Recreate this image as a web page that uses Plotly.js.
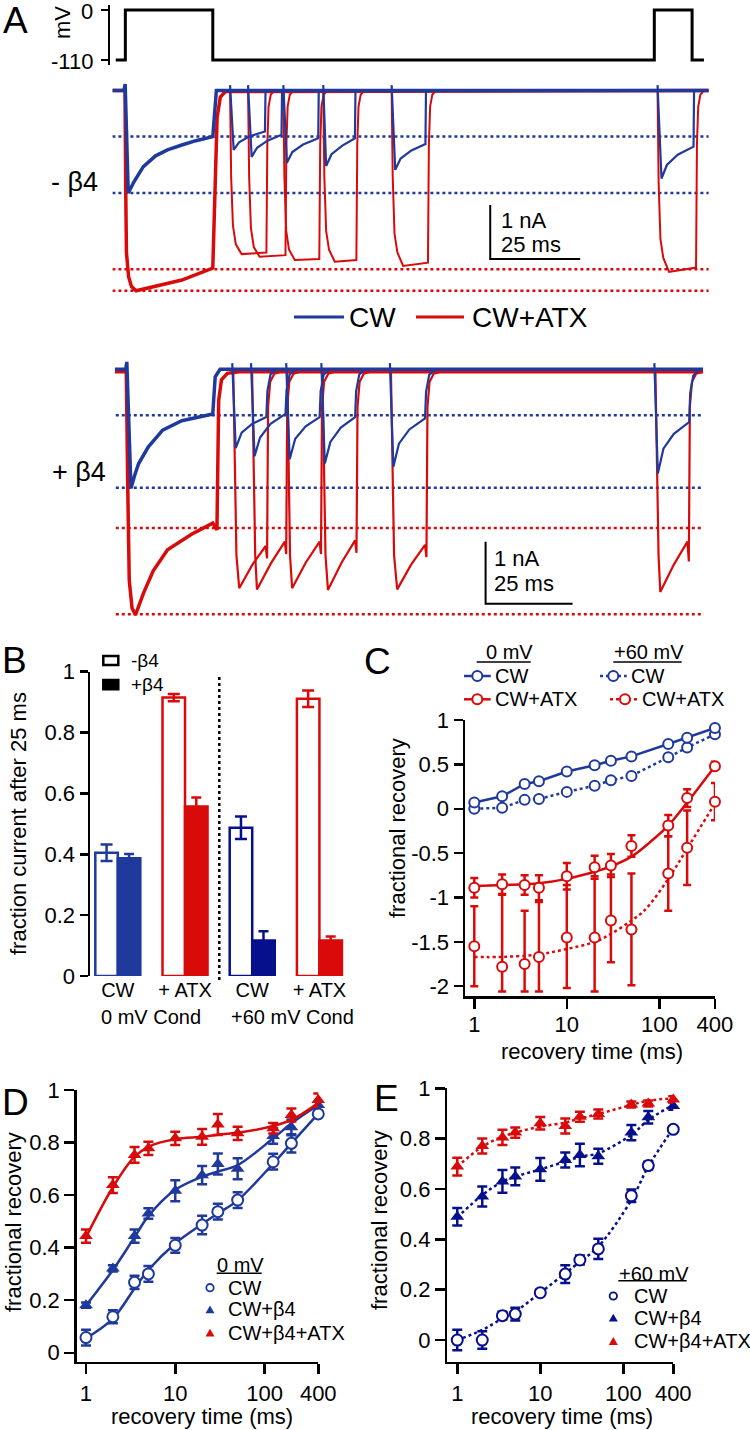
<!DOCTYPE html>
<html><head><meta charset="utf-8">
<script src="https://cdn.plot.ly/plotly-3.0.1.min.js"></script>
<style>html,body{margin:0;padding:0;background:#fff}#chart{width:750px;height:1430px}</style>
</head><body><div id="chart"></div>
<script>
// ---------------- DATA ----------------
// Panel A: voltage protocol (ms, mV)
const protoT = [-2.67, 0, 0, 24.3, 24.3, 147.0, 147.0, 157.5, 157.5, 160.8];
const protoV = [-110, -110, 0, 0, -110, -110, 0, 0, -110, -110];
const protoTickVals = [0, -110];
const protoTickText = ['0', '-110'];

// Panel A, -beta4 traces (ms, nA)
const condBlueMinusT = [-3.6, -0.4, -0.05, 0.8, 2.4, 5.0, 8.4, 11.7, 15.7, 19.6, 24.3, 24.8, 25.3, 162.1];
const condBlueMinusI = [0, 0, 0.12, -1.90, -1.69, -1.41, -1.21, -1.10, -1.01, -0.93, -0.855, -0.3, 0, 0];
const testBlueMinusT = [29.1,30.1,31.6,34.5,38.8,38.95, null, 34.1,35.1,36.6,39.5,43.4,43.55, null, 43.9,44.9,46.4,49.4,53.6,53.75, null, 55.0,55.8,57.3,60.3,63.8,63.95, null, 74.0,75.0,76.5,79.5,83.4,83.55, null, 147.9,149.0,150.5,153.5,157.9,158.05];
const testBlueMinusI = [0.1,-1.10,-0.96,-0.85,-0.76,0, null, 0.1,-1.23,-1.06,-0.93,-0.82,0, null, 0.1,-1.34,-1.14,-1.00,-0.885,0, null, 0.1,-1.40,-1.18,-1.02,-0.885,0, null, 0.1,-1.47,-1.26,-1.11,-0.99,0, null, 0.1,-1.63,-1.38,-1.19,-1.04,0];
const condRedMinusT = [-3.6, -0.1, 0.1, 0.3, 0.9, 1.7, 3.0, 7.7, 15.7, 24.3, 24.8, 25.5, 26.4, 27.8, 162.1];
const condRedMinusI = [0, 0, -1.8, -3.0, -3.45, -3.63, -3.71, -3.63, -3.51, -3.29, -2.2, -0.5, -0.12, -0.02, 0];
const testRedMinusT = [29.1,29.4,29.9,30.7,32.3,39.2,39.45,39.8,40.4,41.4, null,
  34.1,34.4,34.9,35.7,37.3,44.5,44.75,45.1,45.7,46.7, null,
  43.9,44.2,44.7,45.5,47.1,53.9,54.15,54.5,55.1,56.1, null,
  55.0,55.3,55.8,56.6,58.2,64.2,64.45,64.8,65.4,66.4, null,
  74.0,74.3,74.8,75.6,77.2,84.1,84.35,84.7,85.3,86.3, null,
  147.9,148.2,148.7,149.5,151.1,158.6,158.85,159.2,159.8,160.8];
const testRedMinusI = [0,-1.6,-2.5,-2.85,-3.03,-3.00,-1.0,-0.3,-0.08,0, null,
  0,-1.6,-2.55,-2.9,-3.08,-3.05,-1.0,-0.3,-0.08,0, null,
  0,-1.6,-2.6,-2.95,-3.14,-3.12,-1.0,-0.3,-0.08,0, null,
  0,-1.6,-2.6,-2.95,-3.17,-3.14,-1.0,-0.3,-0.08,0, null,
  0,-1.6,-2.65,-3.0,-3.25,-3.19,-1.0,-0.3,-0.08,0, null,
  0,-1.7,-2.75,-3.1,-3.36,-3.28,-1.0,-0.3,-0.08,0];
const refBlueMinus = [-0.85, -1.90];
const refRedMinus = [-3.31, -3.71];
const spanMinus = [-3.6, 162.1];
const scaleMinusT = [101.4, 101.4, 126.4];
const scaleMinusI = [-2.12, -3.12, -3.12];

// Panel A, +beta4 traces (ms, nA)
const condBluePlusT = [-3.45, -0.3, 0, 1.2, 2.2, 3.4, 6.2, 10.3, 15.8, 24.7, 25.4, 26.8, 165.6];
const condBluePlusI = [0, 0, 0.12, -1.92, -1.72, -1.52, -1.25, -0.98, -0.83, -0.72, -0.12, 0, 0];
const testBluePlusT = [30.3,31.3,33.0,36.0,40.1,40.4,41.3,43.1, null,
  35.7,36.7,38.3,41.3,45.6,45.9,46.8,48.6, null,
  45.8,46.8,48.4,51.4,55.4,55.7,56.6,58.4, null,
  55.9,56.9,58.5,61.5,65.6,65.9,66.8,68.6, null,
  75.6,76.6,78.2,81.2,85.7,86.0,86.9,88.7, null,
  151.6,152.6,154.2,157.2,161.6,161.9,162.8,164.6];
const testBluePlusI = [0.1,-1.27,-1.02,-0.88,-0.77,-0.35,-0.08,0, null,
  0.1,-1.40,-1.10,-0.88,-0.72,-0.33,-0.08,0, null,
  0.1,-1.45,-1.12,-0.92,-0.77,-0.35,-0.08,0, null,
  0.1,-1.52,-1.17,-0.94,-0.77,-0.35,-0.08,0, null,
  0.1,-1.57,-1.20,-0.97,-0.79,-0.36,-0.09,0, null,
  0.1,-1.68,-1.28,-1.04,-0.85,-0.38,-0.1,0];
const condRedPlusT = [-3.45, -0.15, 0.3, 0.7, 1.5, 2.5, 4.8, 7.6, 11.7, 18.6, 24.7, 25.9, 26.4, 27.2, 28.9, 32.3, 165.6];
const condRedPlusI = [-0.04, -0.04, -2.0, -3.4, -3.85, -3.96, -3.61, -3.25, -2.91, -2.66, -2.48, -2.59, -0.5, -0.17, -0.065, -0.04, -0.04];
const testRedPlusT = [30.6,31.0,31.5,32.3,36.1,39.9,40.3,40.6,41.2,42.4,44.4, null,
  36.0,36.4,36.9,37.4,41.4,45.4,45.8,46.1,46.7,47.9,49.9, null,
  46.1,46.5,46.9,47.5,51.4,55.4,55.8,56.1,56.7,57.9,59.9, null,
  56.2,56.6,57.1,57.8,61.7,65.6,66.0,66.3,66.9,68.1,70.1, null,
  75.9,76.3,76.8,77.7,81.7,85.7,86.1,86.4,87.0,88.2,90.2, null,
  151.9,152.3,152.8,153.3,157.2,161.1,161.5,161.8,162.4,163.6,165.6];
const testRedPlusI = [-0.04,-1.6,-3.0,-3.53,-3.15,-2.85,-3.05,-0.6,-0.2,-0.07,-0.04, null,
  -0.04,-1.6,-3.0,-3.55,-3.13,-2.78,-2.98,-0.6,-0.2,-0.07,-0.04, null,
  -0.04,-1.6,-3.0,-3.53,-3.12,-2.78,-2.98,-0.6,-0.2,-0.07,-0.04, null,
  -0.04,-1.6,-3.0,-3.56,-3.12,-2.76,-2.96,-0.6,-0.2,-0.07,-0.04, null,
  -0.04,-1.6,-3.0,-3.55,-3.15,-2.83,-3.03,-0.6,-0.2,-0.07,-0.04, null,
  -0.04,-1.6,-3.0,-3.59,-3.15,-2.78,-3.1,-0.6,-0.2,-0.07,-0.04];
const refBluePlus = [-0.74, -1.91];
const refRedPlus = [-2.56, -3.95];
const spanPlus = [-3.16, 165.0];
const scalePlusT = [103.1, 103.1, 128.1];
const scalePlusI = [-2.78, -3.78, -3.78];

// Panel B: fraction current after 25 ms
const categoriesB = ['CW', '+ ATX', 'CW', '+ ATX'];
const conditionsB = ['0 mV Cond', '+60 mV Cond'];
const minusB4 = [0.405, 0.915, 0.487, 0.911];
const minusB4Err = [0.027, 0.012, 0.037, 0.027];
const plusB4 = [0.387, 0.557, 0.117, 0.117];
const plusB4Err = [0.014, 0.030, 0.030, 0.013];
const yTicksB = [0, 0.2, 0.4, 0.6, 0.8, 1];

// Recovery times (ms) shared by C, D, E
const recT = [1, 2, 3.5, 5, 10, 20, 30, 50, 125, 200, 400];
const timeTickVals = [1, 10, 100, 400];
const timeTickText = ['1', '10', '100', '400'];

// Panel C
const C_cw0 = [0.07, 0.14, 0.28, 0.31, 0.42, 0.49, 0.54, 0.59, 0.73, 0.80, 0.91];
const C_cw60 = [0.00, 0.01, 0.10, 0.11, 0.19, 0.26, 0.32, 0.37, 0.58, 0.69, 0.84];
const C_atx0 = [-0.89, -0.85, -0.86, -0.89, -0.76, -0.66, -0.64, -0.42, -0.19, 0.12, 0.48];
const C_atx0Err = [0.11, 0.11, 0.11, 0.14, 0.15, 0.13, 0.13, 0.12, 0.12, 0.10, 0.05];
const C_atx60 = [-1.55, -1.78, -1.75, -1.67, -1.45, -1.45, -1.26, -1.36, -0.73, -0.44, 0.08];
const C_atx60ErrUp = [0.45, 0.81, 0.60, 0.62, 0.59, 0.69, 0.52, 0.63, 0.42, 0.42, 0.21];
const C_atx60ErrDn = [0.45, 0.28, 0.31, 0.39, 0.57, 0.61, 0.47, 0.63, 0.42, 0.42, 0.21];
const fitC0T = [1, 2, 5, 10, 20, 30, 50, 85, 125, 200, 400];
const fitC0Y = [-0.87, -0.86, -0.84, -0.79, -0.71, -0.65, -0.54, -0.35, -0.19, 0.07, 0.48];
const fitC60T = [1, 2, 5, 10, 20, 30, 50, 70, 125, 200, 400];
const fitC60Y = [-1.67, -1.67, -1.64, -1.58, -1.50, -1.41, -1.26, -1.14, -0.79, -0.45, 0.06];
const yTicksC = [-2, -1.5, -1, -0.5, 0, 0.5, 1];
const yTickTextC = ['-2', '-1.5', '-1', '-0.5', '0', '0.5', '1'];

// Panel D (0 mV)
const D_cw = [0.058, 0.137, 0.268, 0.30, 0.409, 0.486, 0.537, 0.581, 0.727, 0.797, 0.909];
const D_cwErr = [0.03, 0.025, 0.025, 0.03, 0.028, 0.035, 0.03, 0.03, 0.03, 0.035, 0.015];
const D_b4 = [0.181, 0.321, 0.444, 0.53, 0.617, 0.676, 0.718, 0.70, 0.825, 0.858, 0.943];
const D_b4Err = [0.01, 0.012, 0.025, 0.02, 0.04, 0.035, 0.04, 0.04, 0.03, 0.03, 0.012];
const D_atx = [0.444, 0.638, 0.753, 0.778, 0.816, 0.822, 0.869, 0.835, 0.854, 0.905, 0.962];
const D_atxErr = [0.025, 0.03, 0.03, 0.025, 0.025, 0.03, 0.04, 0.025, 0.02, 0.025, 0.025];
const fitD_cw = [0.055, 0.13, 0.245, 0.315, 0.416, 0.49, 0.53, 0.58, 0.72, 0.797, 0.91];
const fitD_b4 = [0.18, 0.315, 0.44, 0.52, 0.62, 0.67, 0.69, 0.714, 0.816, 0.873, 0.943];
const fitD_atx = [0.44, 0.63, 0.746, 0.784, 0.813, 0.822, 0.83, 0.837, 0.863, 0.886, 0.95];

// Panel E (+60 mV)
const E_cw = [0.0, 0.0, 0.097, 0.103, 0.188, 0.262, 0.318, 0.362, 0.573, 0.693, 0.837];
const E_cwErr = [0.041, 0.035, 0.015, 0.025, 0.012, 0.035, 0.018, 0.04, 0.025, 0.015, 0.01];
const E_b4 = [0.49, 0.57, 0.63, 0.65, 0.678, 0.715, 0.735, 0.73, 0.824, 0.885, 0.93];
const E_b4Err = [0.035, 0.04, 0.045, 0.035, 0.045, 0.03, 0.045, 0.03, 0.03, 0.025, 0.015];
const E_atx = [0.689, 0.771, 0.805, 0.824, 0.861, 0.85, 0.887, 0.898, 0.936, 0.94, 0.956];
const E_atxErr = [0.035, 0.03, 0.03, 0.02, 0.025, 0.03, 0.02, 0.018, 0.012, 0.012, 0.012];
const fitE_cw = [0.0, 0.04, 0.086, 0.113, 0.188, 0.265, 0.311, 0.371, 0.556, 0.689, 0.841];
const fitE_b4 = [0.487, 0.576, 0.629, 0.649, 0.678, 0.709, 0.728, 0.742, 0.815, 0.874, 0.934];
const fitE_atx = [0.689, 0.768, 0.808, 0.824, 0.848, 0.864, 0.88, 0.898, 0.934, 0.951, 0.96];
const yTicks01 = [0, 0.2, 0.4, 0.6, 0.8, 1];

// ---------------- STYLE / LAYOUT ----------------
const W = 750, H = 1430;
const FONT = 'Liberation Sans, Arial, Helvetica, sans-serif';
const BLUE = '#1f3a9c', NAVY = '#07108c', RED = '#d80a0a', BLACK = '#000000';
const LOGMAX = 2.6025; // just past 400 ms so the last points are kept
const px = x => x / W;
const py = y => 1 - y / H;
const dX = (a, b) => [px(a), px(b)];
const dY = (top, bottom) => [py(bottom), py(top)];

const traces = [];
function line(x, y, xa, ya, color, width, dash, shape) {
  traces.push({type:'scatter', mode:'lines', x, y, xaxis:xa, yaxis:ya, connectgaps:false,
    line:{color, width, dash: dash || 'solid', shape: shape || 'linear'}, hoverinfo:'skip'});
}
function hline(span, val, xa, ya, color) {
  line(span, [val, val], xa, ya, color, 2.5, 'dot');
}

// Panel A protocol
line(protoT, protoV, 'x', 'y', BLACK, 3);
// Panel A -beta4
refBlueMinus.forEach(v => hline(spanMinus, v, 'x', 'y2', BLUE));
refRedMinus.forEach(v => hline(spanMinus, v, 'x', 'y2', RED));
line(condRedMinusT, condRedMinusI, 'x', 'y2', RED, 3.5);
line(testRedMinusT, testRedMinusI, 'x', 'y2', RED, 2);
line(condBlueMinusT, condBlueMinusI, 'x', 'y2', BLUE, 3.5);
line(testBlueMinusT, testBlueMinusI, 'x', 'y2', BLUE, 2.2);
line(scaleMinusT, scaleMinusI, 'x', 'y2', BLACK, 2);
// Panel A +beta4
refBluePlus.forEach(v => hline(spanPlus, v, 'x2', 'y3', BLUE));
refRedPlus.forEach(v => hline(spanPlus, v, 'x2', 'y3', RED));
line(condRedPlusT, condRedPlusI, 'x2', 'y3', RED, 3.5);
line(testRedPlusT, testRedPlusI, 'x2', 'y3', RED, 2.2);
line(condBluePlusT, condBluePlusI, 'x2', 'y3', BLUE, 3.5);
line(testBluePlusT, testBluePlusI, 'x2', 'y3', BLUE, 2.2);
line(scalePlusT, scalePlusI, 'x2', 'y3', BLACK, 2);

// Panel B bars
const colB = [BLUE, RED, NAVY, RED];
for (let k = 0; k < categoriesB.length; k++) {
  traces.push({type:'bar', x:[k], y:[minusB4[k]], xaxis:'x3', yaxis:'y4', width:0.335, offset:-0.335,
    marker:{color:'#ffffff', line:{color:colB[k], width:2.5}},
    error_y:{type:'data', array:[minusB4Err[k]], color:colB[k], thickness:2.5, width:6}, hoverinfo:'skip'});
  traces.push({type:'bar', x:[k], y:[plusB4[k]], xaxis:'x3', yaxis:'y4', width:0.335, offset:0,
    marker:{color:colB[k], line:{color:colB[k], width:2.5}},
    error_y:{type:'data', array:[plusB4Err[k]], color:colB[k], thickness:2.5, width:5}, hoverinfo:'skip'});
}

function pts(x, y, xa, ya, color, symbol, size, err, errDn, lineStyle) {
  const t = {type:'scatter', mode: lineStyle ? 'lines+markers' : 'markers', x, y, xaxis:xa, yaxis:ya,
    cliponaxis:false, hoverinfo:'skip',
    marker:{symbol, size, color: symbol === 'circle' ? '#ffffff' : color, line:{color, width: symbol === 'circle' ? 2 : 0}}};
  if (lineStyle) t.line = {color, width:2.5, dash:lineStyle};
  if (err) {
    t.error_y = errDn ? {type:'data', symmetric:false, array:err, arrayminus:errDn, color, thickness:2.5, width:4}
                      : {type:'data', array:err, color, thickness:2.5, width:5};
  }
  traces.push(t);
}

// Panel C
line(fitC60T, fitC60Y, 'x4', 'y5', RED, 2.5, 'dot', 'spline');
pts(recT, C_atx60, 'x4', 'y5', RED, 'circle', 10, C_atx60ErrUp, C_atx60ErrDn);
line(fitC0T, fitC0Y, 'x4', 'y5', RED, 2.5, 'solid', 'spline');
pts(recT, C_atx0, 'x4', 'y5', RED, 'circle', 10, C_atx0Err, C_atx0Err);
pts(recT, C_cw60, 'x4', 'y5', BLUE, 'circle', 10, null, null, 'dot');
pts(recT, C_cw0, 'x4', 'y5', BLUE, 'circle', 10, null, null, 'solid');

// Panel D
line(recT, fitD_cw, 'x5', 'y6', BLUE, 2.5, 'solid', 'spline');
line(recT, fitD_b4, 'x5', 'y6', BLUE, 2.5, 'solid', 'spline');
pts(recT, D_cw, 'x5', 'y6', BLUE, 'circle', 11, D_cwErr);
pts(recT, D_b4, 'x5', 'y6', BLUE, 'triangle-up', 12, D_b4Err);
line(recT, fitD_atx, 'x5', 'y6', RED, 2.5, 'solid', 'spline');
pts(recT, D_atx, 'x5', 'y6', RED, 'triangle-up', 12, D_atxErr);

// Panel E
line(recT, fitE_cw, 'x6', 'y7', NAVY, 2.5, 'dot', 'spline');
line(recT, fitE_b4, 'x6', 'y7', NAVY, 2.5, 'dot', 'spline');
pts(recT, E_cw, 'x6', 'y7', NAVY, 'circle', 11, E_cwErr);
pts(recT, E_b4, 'x6', 'y7', NAVY, 'triangle-up', 12, E_b4Err);
line(recT, fitE_atx, 'x6', 'y7', RED, 2.5, 'dot', 'spline');
pts(recT, E_atx, 'x6', 'y7', RED, 'triangle-up', 12, E_atxErr);

// ---------- axes ----------
const hidden = {visible:false, showgrid:false, zeroline:false, fixedrange:true};
function axisBase(extra) {
  return Object.assign({showline:true, linewidth:2.5, linecolor:BLACK, ticks:'outside', ticklen:10, tickwidth:2.5,
    tickcolor:BLACK, tickfont:{size:22, family:FONT, color:BLACK}, showgrid:false, zeroline:false, fixedrange:true}, extra);
}
const layout = {
  width: W, height: H, margin:{l:0, r:0, t:0, b:0}, showlegend:false,
  paper_bgcolor:'#ffffff', plot_bgcolor:'rgba(0,0,0,0)', barmode:'overlay',
  font:{family:FONT, size:20, color:BLACK},
  xaxis: Object.assign({}, hidden, {domain:dX(112.4, 709), range:[-3.6, 162.2], anchor:'y2'}),
  yaxis: axisBase({domain:dY(5, 65), range:[-121, 11], anchor:'free', position:px(109), linewidth:2, tickwidth:2, ticklen:7,
    tickvals:protoTickVals, showticklabels:false}),
  yaxis2: Object.assign({}, hidden, {domain:dY(80, 300), range:[-3.88, 0.194], anchor:'x'}),
  xaxis2: Object.assign({}, hidden, {domain:dX(114.8, 703.3), range:[-3.45, 165.66], anchor:'y3'}),
  yaxis3: Object.assign({}, hidden, {domain:dY(355, 625), range:[-4.124, 0.231], anchor:'x2'}),
  xaxis3: axisBase({domain:dX(90, 350), range:[-0.414, 3.455], anchor:'y4', showline:false, ticks:'',
    tickvals:[0, 1, 2, 3], ticktext:categoriesB, tickfont:{size:20, family:FONT, color:BLACK}}),
  yaxis4: axisBase({domain:dY(671.7, 976), range:[0, 1], anchor:'x3', ticklen:8, tickvals:yTicksB}),
  xaxis4: axisBase({type:'log', domain:dX(465, 715), range:[-0.1005, LOGMAX], anchor:'y5', tickvals:timeTickVals, ticktext:timeTickText, ticklabelstandoff:-3}),
  yaxis5: axisBase({domain:dY(720, 996), range:[-2.11, 1.0], anchor:'x4', ticklen:9, tickvals:yTicksC, ticktext:yTickTextC}),
  xaxis5: axisBase({type:'log', domain:dX(76.7, 318.3), range:[-0.104, LOGMAX], anchor:'y6', tickvals:timeTickVals, ticktext:timeTickText}),
  yaxis6: axisBase({domain:dY(1090, 1361.7), range:[-0.034, 1.0], anchor:'x5', tickvals:yTicks01}),
  xaxis6: axisBase({type:'log', domain:dX(447.3, 673.3), range:[-0.12, LOGMAX], anchor:'y7', tickvals:timeTickVals, ticktext:timeTickText}),
  yaxis7: axisBase({domain:dY(1088.3, 1361.7), range:[-0.086, 1.0], anchor:'x6', tickvals:yTicks01})
};

// ---------- annotations ----------
function txt(text, x, y, size, opts) {
  return Object.assign({text, xref:'paper', yref:'paper', x:px(x), y:py(y), xanchor:'left', yanchor:'middle',
    showarrow:false, font:{size, family:FONT, color:BLACK}}, opts || {});
}
const C = {xanchor:'center'};
const R = {xanchor:'right'};
layout.annotations = [
  txt('A', 1, 21, 37), txt('B', 0, 660, 37), txt('C', 362, 661, 37), txt('D', 0, 1102, 37), txt('E', 372, 1098, 37),
  txt('mV', 62, 23, 22, {xanchor:'center', textangle:-90}),
  txt(protoTickText[0], 95, 12, 22, R), txt(protoTickText[1], 95, 61, 22, R),
  txt('- β4', 74, 182, 27, C), txt('+ β4', 79, 472, 27, C),
  txt('1 nA', 499, 220, 22), txt('25 ms', 499, 244, 22),
  txt('1 nA', 492, 558, 22), txt('25 ms', 492, 583, 22),
  txt('CW', 347, 317, 28), txt('CW+ATX', 470, 317, 28),
  // B
  txt('fraction current after 25 ms', 18, 824, 22, {xanchor:'center', textangle:-90}),
  txt(conditionsB[0], 151, 1017, 20, C), txt(conditionsB[1], 292, 1017, 20, C),
  txt('-β4', 129, 660, 19), txt('+β4', 129, 685, 19),
  // C
  txt('fractional recovery', 397, 828, 22, {xanchor:'center', textangle:-90}),
  txt('recovery time (ms)', 592, 1051, 22, C),
  txt('0 mV', 484, 652, 20), txt('+60 mV', 612, 652, 20),
  txt('CW', 493, 676, 20), txt('CW+ATX', 493, 699, 20),
  txt('CW', 629, 676, 20), txt('CW+ATX', 640, 699, 20),
  // D
  txt('fractional recovery', 13, 1222, 22, {xanchor:'center', textangle:-90}),
  txt('recovery time (ms)', 202, 1416, 22, C),
  txt('0 mV', 215, 1265, 20), txt('CW', 226, 1288, 20), txt('CW+β4', 226, 1309, 20), txt('CW+β4+ATX', 226, 1333, 20),
  // E
  txt('fractional recovery', 379, 1220, 22, {xanchor:'center', textangle:-90}),
  txt('recovery time (ms)', 562, 1416, 22, C),
  txt('+60 mV', 617, 1274, 20), txt('CW', 632, 1296, 20), txt('CW+β4', 632, 1318, 20), txt('CW+β4+ATX', 632, 1341, 20)
];

// ---------- legend glyphs (layout shapes) ----------
function sLine(x0, y0, x1, y1, color, width, dash) {
  return {type:'line', xref:'paper', yref:'paper', x0:px(x0), y0:py(y0), x1:px(x1), y1:py(y1),
    line:{color, width, dash: dash || 'solid'}};
}
function sCircle(cx, cy, r, color, w) {
  return {type:'circle', xref:'paper', yref:'paper', x0:px(cx - r), x1:px(cx + r), y0:py(cy + r), y1:py(cy - r),
    line:{color, width: w || 2}, fillcolor:'#ffffff'};
}
function sTri(cx, cy, s, color) {
  const h = s * 0.866;
  return {type:'path', xref:'paper', yref:'paper',
    path:`M ${px(cx - s/2)} ${py(cy + h/2)} L ${px(cx + s/2)} ${py(cy + h/2)} L ${px(cx)} ${py(cy - h/2)} Z`,
    fillcolor:color, line:{color, width:0}};
}
function sRect(x0, y0, x1, y1, fill) {
  return {type:'rect', xref:'paper', yref:'paper', x0:px(x0), x1:px(x1), y0:py(y1), y1:py(y0),
    line:{color:BLACK, width:2.5}, fillcolor:fill};
}
layout.shapes = [
  sLine(294, 317, 344, 317, BLUE, 3), sLine(416, 317, 464, 317, RED, 3),
  sLine(219.3, 677, 219.3, 983, BLACK, 2.5, 'dot'),
  sRect(103.3, 656, 118.3, 665, '#ffffff'), sRect(103.3, 680, 118.3, 689.3, BLACK),
  // C legend
  sLine(476.7, 662, 530.7, 662, BLACK, 1.5), sLine(613.3, 662, 681.7, 662, BLACK, 1.5),
  sLine(464, 676, 490.7, 676, BLUE, 2.5), sCircle(477.3, 676, 5, BLUE),
  sLine(464, 699.3, 490.7, 699.3, RED, 2.5), sCircle(477.3, 699.3, 5, RED),
  sLine(600, 676, 626.7, 676, BLUE, 2.5, 'dot'), sCircle(613.3, 676, 5, BLUE),
  sLine(610, 699.3, 638.3, 699.3, RED, 2.5, 'dot'), sCircle(625, 699.3, 5, RED),
  // D legend
  sLine(216.7, 1273.3, 261.7, 1273.3, BLACK, 1.5),
  sCircle(210, 1287.7, 3.7, BLUE, 1.8), sTri(210, 1309.3, 9, BLUE), sTri(210, 1332.7, 9, RED),
  // E legend
  sLine(618.3, 1280.7, 686.7, 1280.7, BLACK, 1.5),
  sCircle(613.3, 1296, 3.7, NAVY, 1.8), sTri(613.3, 1317.7, 9, NAVY), sTri(613.3, 1341, 9, RED)
];

Plotly.newPlot('chart', traces, layout, {staticPlot:true, displayModeBar:false});
</script></body></html>
